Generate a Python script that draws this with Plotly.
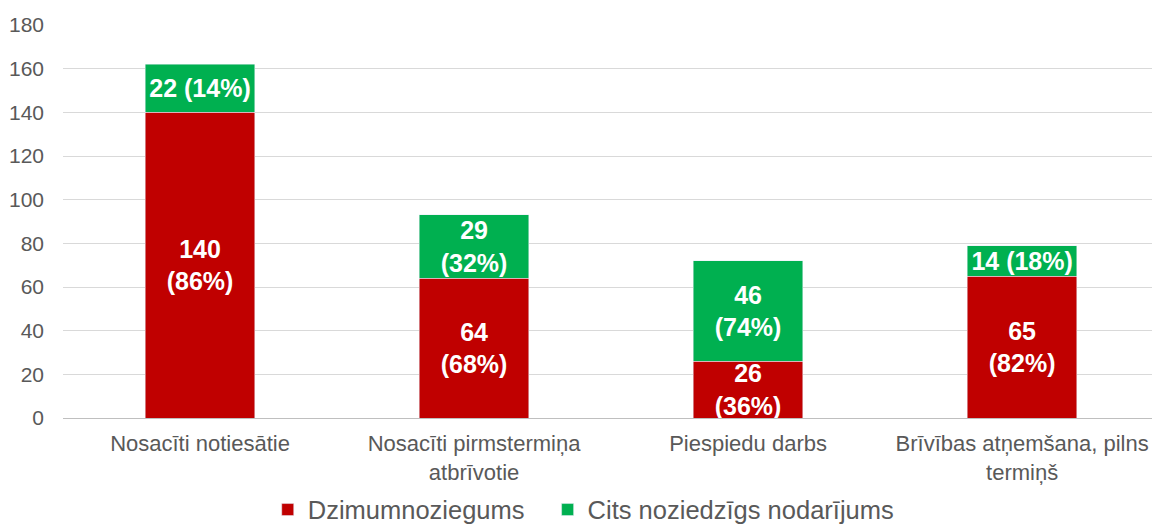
import plotly.graph_objects as go

categories = ["Nosacīti notiesātie", "Nosacīti pirmstermiņa<br>atbrīvotie",
              "Piespiedu darbs", "Brīvības atņemšana, pilns<br>termiņš"]
red_values = [140, 64, 26, 65]
red_labels = ["140<br>(86%)", "64<br>(68%)", "26<br>(36%)", "65<br>(82%)"]
green_values = [22, 29, 46, 14]
green_labels = ["22 (14%)", "29<br>(32%)", "46<br>(74%)", "14 (18%)"]
y_ticks = [0, 20, 40, 60, 80, 100, 120, 140, 160, 180]

label_font = dict(color="white", size=25, family="Liberation Sans")

fig = go.Figure()
fig.add_trace(go.Bar(x=categories, y=red_values, name="Dzimumnoziegums",
                     marker_color="#C00000", text=red_labels,
                     textposition="inside", insidetextanchor="middle",
                     textfont=label_font, texttemplate="<b>%{text}</b>",
                     legend="legend"))
fig.add_trace(go.Bar(x=categories, y=green_values, name="Cits noziedzīgs nodarījums",
                     marker_color="#00B050", text=green_labels,
                     textposition="inside", insidetextanchor="middle",
                     textfont=label_font, texttemplate="<b>%{text}</b>",
                     legend="legend2"))

leg_common = dict(orientation="h", y=-0.234, yanchor="middle", xanchor="left",
                  font=dict(size=25.5, color="#595959"), itemwidth=30,
                  bgcolor="rgba(0,0,0,0)")

fig.update_layout(
    barmode="stack", bargap=0.6,
    width=1152, height=525,
    margin=dict(l=63, r=0, t=25, b=107, autoexpand=False),
    plot_bgcolor="white", paper_bgcolor="white",
    font=dict(family="Liberation Sans", color="#595959"),
    uniformtext=dict(minsize=25, mode="show"),
    showlegend=True,
    legend=dict(x=0.188, **leg_common),
    legend2=dict(x=0.445, **leg_common),
    xaxis=dict(range=[-0.5, 3.474], tickfont=dict(size=22, color="#595959"),
               showline=False, showgrid=False, automargin=False,
               ticklabelstandoff=10),
    yaxis=dict(range=[0, 180], tickvals=y_ticks, tickfont=dict(size=21, color="#595959"),
               showgrid=True, gridcolor="#D9D9D9", gridwidth=1,
               zeroline=True, zerolinecolor="#BFBFBF", zerolinewidth=1,
               ticks="", ticklabelstandoff=18, automargin=False),
)
fig.write_html("out.html", config={"displayModeBar": False},
               post_script="document.body.style.margin='0';document.body.style.overflow='hidden';")
